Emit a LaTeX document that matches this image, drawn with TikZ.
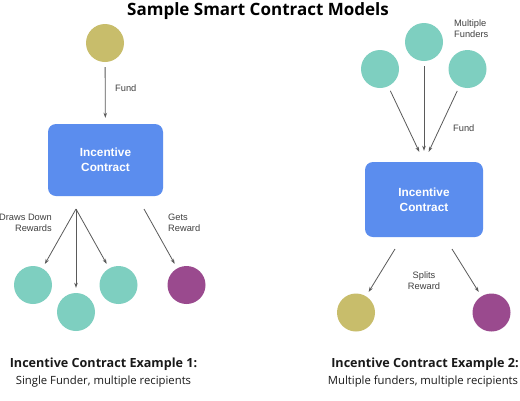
\documentclass[tikz,border=0pt]{standalone}
\usepackage{fontspec}
\setmainfont{Open Sans}
\newfontfamily\helv{Liberation Sans}
\usetikzlibrary{arrows.meta}

\definecolor{turquoise}{HTML}{7ECFC0}
\definecolor{olive}{HTML}{C8BD6B}
\definecolor{prune}{HTML}{9A4A8E}
\definecolor{bleu}{HTML}{5B8DEE}
\definecolor{gris}{HTML}{5A5A5A}

\tikzset{
	rond/.style={circle, minimum size=38pt, inner sep=0pt},
	boite/.style={rectangle, rounded corners=8pt, fill=bleu, text=white, align=center,
		font=\helv\bfseries\fontsize{11.8}{15}\selectfont},
	fleche/.style={gris, line width=0.8pt, -{Stealth[length=5pt, width=3.5pt]}},
	etiq/.style={font=\helv\fontsize{9.3}{11}\selectfont, text=black!75, inner sep=0pt},
	legende/.style={font=\bfseries\fontsize{12.6}{15}\selectfont, text=black!90, inner sep=0pt},
	soustitre/.style={font=\fontsize{11.3}{14}\selectfont, text=black!90, inner sep=0pt}
}

\begin{document}
\begin{tikzpicture}[x=1pt, y=-1pt]
	\useasboundingbox (0,0) rectangle (520,400);
	\fill[white] (0,0) rectangle (520,400);

	% Titre
	\node[font=\bfseries\fontsize{17}{20}\selectfont, inner sep=0pt, anchor=base] (titre) at (258,15.5) {Sample Smart Contract Models};

	% Exemple 1 : un seul financeur
	\node[rond, fill=olive] (f0) at (105,43) {};
	\node[boite, minimum width=115pt, minimum height=72pt] (boite1) at (105.5,160) {Incentive\\Contract};
	\coordinate (dep) at (76,209);
	\coordinate (gr) at (144,209);
	\node[rond, fill=turquoise] (r1) at (33,285) {};
	\node[rond, fill=turquoise] (r2) at (76,312) {};
	\node[rond, fill=turquoise] (r3) at (118.5,285) {};
	\node[rond, fill=prune] (r4) at (186.5,285) {};

	\draw[fleche, shorten <=5pt, shorten >=6pt] (f0) -- (boite1);
	\foreach \r in {r1,r2,r3}
	\draw[fleche, shorten >=5pt] (dep) -- (\r);
	\draw[fleche, shorten >=5pt] (gr) -- (r4);

	\node[etiq, anchor=base west] (fund1) at (115,91) {Fund};
	\node[etiq, anchor=base east, align=right] (draws) at (52,231) {Draws Down\\Rewards};
	\node[etiq, anchor=base west, align=left] (gets) at (168,231) {Gets\\Reward};

	% Exemple 2 : plusieurs financeurs
	\node[rond, fill=turquoise] (f1) at (380,69) {};
	\node[rond, fill=turquoise] (f2) at (424,42) {};
	\node[rond, fill=turquoise] (f3) at (467.5,69) {};
	\node[boite, minimum width=118pt, minimum height=75pt] (boite2) at (424,199.5) {Incentive\\Contract};
	\coordinate (s1) at (395,249);
	\coordinate (s2) at (452,249);
	\node[rond, fill=olive] (r5) at (356,312.5) {};
	\node[rond, fill=prune] (r6) at (491.5,312.5) {};

	\foreach \f in {f1,f2,f3}
	\draw[fleche, shorten <=5pt, shorten >=11pt] (\f) -- (boite2.north);
	\draw[fleche, shorten >=5pt] (s1) -- (r5);
	\draw[fleche, shorten >=5pt] (s2) -- (r6);

	\node[etiq, anchor=base west, align=left] (multi) at (454,37) {Multiple\\Funders};
	\node[etiq, anchor=base west] (fund2) at (453,131) {Fund};
	\node[etiq, anchor=base, align=center] (splits) at (424,289) {Splits\\Reward};

	% Legendes
	\node[legende, anchor=base] (leg1) at (103.5,367) {Incentive Contract Example 1:};
	\node[soustitre, anchor=base] (sous1) at (103.5,384) {Single Funder, multiple recipients};
	\node[legende, anchor=base] (leg2) at (425,367) {Incentive Contract Example 2:};
	\node[soustitre, anchor=base] (sous2) at (423,384) {Multiple funders, multiple recipients};
\end{tikzpicture}
\end{document}
